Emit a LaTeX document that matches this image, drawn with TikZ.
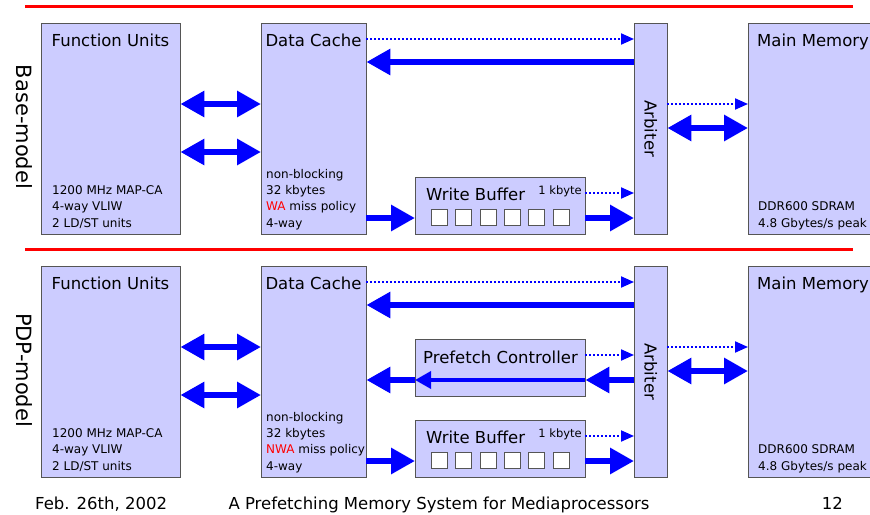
\documentclass[tikz,border=0pt]{standalone}
\usepackage{fontspec}
\setmainfont{DejaVu Sans}
\usepackage{tikz}
\usetikzlibrary{arrows.meta}

\definecolor{boxfill}{HTML}{CCCCFF}
\definecolor{boxline}{HTML}{555555}
\definecolor{arrowblue}{HTML}{0000FF}

\begin{document}
\begin{tikzpicture}[
	x=1pt, y=-1pt,
	box/.style={draw=boxline, fill=boxfill, inner sep=0pt, anchor=north west},
	cell/.style={draw=boxline, fill=white, inner sep=0pt, minimum size=16pt},
	title/.style={inner sep=0pt, font=\fontsize{16.5}{20}\selectfont},
	info/.style={inner sep=0pt, align=left, font=\fontsize{12}{16.3}\selectfont},
	side/.style={inner sep=0pt, font=\fontsize{21}{25}\selectfont},
	bigarrow/.style={draw=arrowblue, line width=6pt, -{Triangle[length=24pt,width=25pt]}},
	bigdouble/.style={draw=arrowblue, line width=6pt, {Triangle[length=24pt,width=25pt]}-{Triangle[length=24pt,width=25pt]}},
	midarrow/.style={draw=arrowblue, line width=3.5pt, -{Triangle[length=16pt,width=17pt]}},
	dotarrow/.style={draw=arrowblue, line width=2pt, dash pattern=on 2pt off 2pt, -{Triangle[length=13pt,width=11pt]}},
	redline/.style={draw=red}
	]
	\useasboundingbox (0,0) rectangle (870,514);
	% separators
	\draw[redline, line width=3.5pt] (25,6.5) -- (853,6.5);
	\draw[redline, line width=2.5pt] (25,249.5) -- (853,249.5);
	
	% Base-model
	\node[side, rotate=-90] (basem) at (24,127) {Base-model};
	\node[box, minimum width=139, minimum height=211] (fu1) at (41,23) {};
	\node[box, minimum width=105, minimum height=211] (dc1) at (261,23) {};
	\node[box, minimum width=170, minimum height=57] (wb1) at (415,177) {};
	\node[box, minimum width=33, minimum height=211] (arb1) at (634,23) {};
	\node[box, minimum width=130, minimum height=211] (mm1) at (748,23) {};
	\foreach \i in {0,...,5}
		\node[cell] (cella\i) at (439+24.4*\i,217.5) {};
	\node[title, anchor=base] (fut1) at (110.5,46.5) {Function Units};
	\node[title, anchor=base] (dct1) at (313.5,46.5) {Data Cache};
	\node[title, anchor=base west] (mmt1) at (757,46.5) {Main Memory};
	\node[title, anchor=base west] (wbt1) at (426,200) {Write Buffer};
	\node[title, rotate=-90] (arbt1) at (arb1.center) {Arbiter};
	\node[inner sep=0pt, anchor=base east, font=\fontsize{11.5}{14}\selectfont] (kb1) at (582,194) {1 kbyte};
	\node[info, anchor=base west] (fui1) at (52,227) {1200 MHz MAP-CA\\4-way VLIW\\2 LD/ST units};
	\node[info, anchor=base west] (dci1) at (266,227) {non-blocking\\32 kbytes\\{\color{red}WA} miss policy\\4-way};
	\node[info, anchor=base west] (mmi1) at (758,227) {DDR600 SDRAM\\4.8 Gbytes/s peak};
	% arrows
	\draw[dotarrow] (dc1.east |- 0,39) -- (arb1.west |- 0,39);
	\draw[bigarrow] (arb1.west |- 0,62) -- (dc1.east |- 0,62);
	\draw[bigdouble] (fu1.east |- 0,104) -- (dc1.west |- 0,104);
	\draw[bigdouble] (fu1.east |- 0,152) -- (dc1.west |- 0,152);
	\draw[bigarrow] (dc1.east |- 0,218) -- (wb1.west |- 0,218);
	\draw[dotarrow] (wb1.east |- 0,193) -- (arb1.west |- 0,193);
	\draw[bigarrow] (wb1.east |- 0,218) -- (arb1.west |- 0,218);
	\draw[dotarrow] (arb1.east |- 0,104) -- (mm1.west |- 0,104);
	\draw[bigdouble] (arb1.east |- 0,128) -- (mm1.west |- 0,128);
	
	% PDP-model
	\node[side, rotate=-90] (pdpm) at (24,370) {PDP-model};
	\node[box, minimum width=139, minimum height=211] (fu2) at (41,266) {};
	\node[box, minimum width=105, minimum height=211] (dc2) at (261,266) {};
	\node[box, minimum width=170, minimum height=57] (pc2) at (415,339) {};
	\node[box, minimum width=170, minimum height=57] (wb2) at (415,420) {};
	\node[box, minimum width=33, minimum height=211] (arb2) at (634,266) {};
	\node[box, minimum width=130, minimum height=211] (mm2) at (748,266) {};
	\foreach \i in {0,...,5}
		\node[cell] (cellb\i) at (439+24.4*\i,460.5) {};
	\node[title, anchor=base] (fut2) at (110.5,289.5) {Function Units};
	\node[title, anchor=base] (dct2) at (313.5,289.5) {Data Cache};
	\node[title, anchor=base west] (mmt2) at (757,289.5) {Main Memory};
	\node[title, anchor=base west] (pct2) at (423,363) {Prefetch Controller};
	\node[title, anchor=base west] (wbt2) at (426,443) {Write Buffer};
	\node[title, rotate=-90] (arbt2) at (arb2.center) {Arbiter};
	\node[inner sep=0pt, anchor=base east, font=\fontsize{11.5}{14}\selectfont] (kb2) at (582,437) {1 kbyte};
	\node[info, anchor=base west] (fui2) at (52,470) {1200 MHz MAP-CA\\4-way VLIW\\2 LD/ST units};
	\node[info, anchor=base west] (dci2) at (266,470) {non-blocking\\32 kbytes\\{\color{red}NWA} miss policy\\4-way};
	\node[info, anchor=base west] (mmi2) at (758,470) {DDR600 SDRAM\\4.8 Gbytes/s peak};
	% arrows
	\draw[dotarrow] (dc2.east |- 0,282) -- (arb2.west |- 0,282);
	\draw[bigarrow] (arb2.west |- 0,305) -- (dc2.east |- 0,305);
	\draw[bigdouble] (fu2.east |- 0,347) -- (dc2.west |- 0,347);
	\draw[bigdouble] (fu2.east |- 0,395) -- (dc2.west |- 0,395);
	\draw[dotarrow] (pc2.east |- 0,355) -- (arb2.west |- 0,355);
	\draw[bigarrow] (arb2.west |- 0,380) -- (pc2.east |- 0,380);
	\draw[midarrow] (pc2.east |- 0,380) -- (pc2.west |- 0,380);
	\draw[bigarrow] (pc2.west |- 0,380) -- (dc2.east |- 0,380);
	\draw[bigarrow] (dc2.east |- 0,461) -- (wb2.west |- 0,461);
	\draw[dotarrow] (wb2.east |- 0,436) -- (arb2.west |- 0,436);
	\draw[bigarrow] (wb2.east |- 0,461) -- (arb2.west |- 0,461);
	\draw[dotarrow] (arb2.east |- 0,347) -- (mm2.west |- 0,347);
	\draw[bigdouble] (arb2.east |- 0,371) -- (mm2.west |- 0,371);
	
	% footer
	\node[title, anchor=base west] (date) at (35,509) {Feb. 26th, 2002};
	\node[title, anchor=base] (talk) at (439,509) {A Prefetching Memory System for Mediaprocessors};
	\node[title, anchor=base east] (page) at (843,509) {12};
\end{tikzpicture}
\end{document}
